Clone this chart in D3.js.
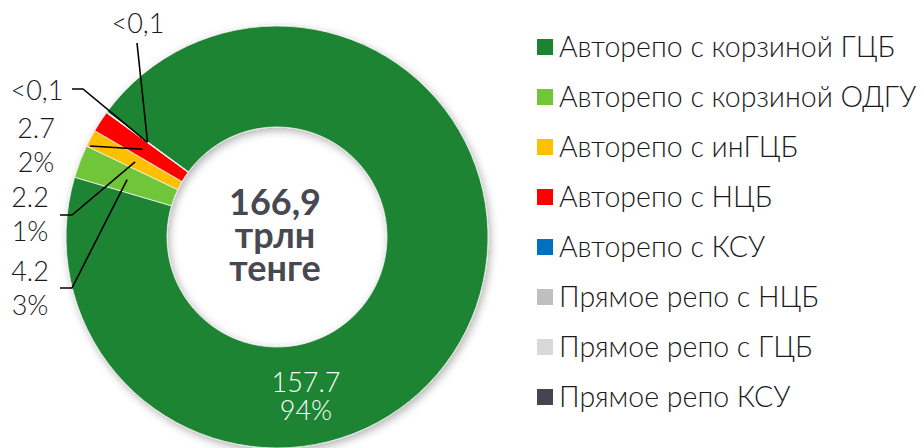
<!DOCTYPE html>
<html>
<head>
<meta charset="utf-8">
<script src="https://cdn.jsdelivr.net/npm/d3@7"></script>
<style>
  html, body { margin: 0; padding: 0; background: #fff; }
  svg { display: block; }
  .lbl { font-family: Lato, "Open Sans", sans-serif; font-weight: 300; }
</style>
</head>
<body>
<svg id="chart" width="923" height="448"></svg>
<script>
// Repo volume structure, trillion tenge
const categories = [
  "Авторепо с корзиной ГЦБ",
  "Авторепо с корзиной ОДГУ",
  "Авторепо с инГЦБ",
  "Авторепо с НЦБ",
  "Авторепо с КСУ",
  "Прямое репо с НЦБ",
  "Прямое репо с ГЦБ",
  "Прямое репо КСУ"
];
const values = [157.7, 4.2, 2.2, 2.7, 0.05, 0.05, 0, 0];
const colors = ["#1a8431", "#70c637", "#ffc000", "#ff0000", "#0070c0", "#bfbfbf", "#d9d9d9", "#44454f"];
const unitLines = ["трлн", "тенге"];

// Label placement (text anchor, leader elbow) for each labelled slice
const labelLayout = {
  0: { inside: true, angleDeg: 169.6 },
  1: { tx: 30, ty: 281, elbow: [[60, 288], [72, 288]] },
  2: { tx: 30, ty: 207, elbow: [[60, 215], [72, 215]] },
  3: { tx: 36, ty: 138, elbow: [[90, 146]] },
  4: { tx: 37, ty: 100, single: true, elbow: [[72, 89], [83, 89]] },
  5: { tx: 138, ty: 33, single: true, elbow: [[137, 43]] }
};

const svg = d3.select("#chart");
const cx = 277, cy = 237, rOuter = 211, rInner = 110;
const startAngle = -53.7 * Math.PI / 180;

const defs = svg.append("defs");
const f = defs.append("filter").attr("id", "shadow")
  .attr("x", "-20%").attr("y", "-20%").attr("width", "140%").attr("height", "140%");
f.append("feDropShadow").attr("dx", 2).attr("dy", 3).attr("stdDeviation", 4)
  .attr("flood-color", "#000").attr("flood-opacity", 0.3);

const total = d3.sum(values);
const data = categories.map((c, i) => ({ name: c, value: values[i], color: colors[i], i }));

const pie = d3.pie().sort(null).value(d => d.value)
  .startAngle(startAngle).endAngle(startAngle + 2 * Math.PI);
const arcs = pie(data);
const arc = d3.arc().innerRadius(rInner).outerRadius(rOuter);

const g = svg.append("g").attr("transform", `translate(${cx},${cy})`);
g.append("g").attr("filter", "url(#shadow)")
  .selectAll("path").data(arcs.filter(a => a.value > 0)).join("path")
  .attr("d", arc)
  .attr("fill", d => d.data.color)
  .attr("stroke", "#f2f2f2").attr("stroke-width", 0.8);

// Value / share labels
const fmtVal = v => v < 0.1 ? "<0,1" : d3.format(".1f")(v);
const fmtPct = d3.format(".0%");

arcs.forEach(a => {
  const lay = labelLayout[a.index];
  if (!lay) return;
  const valText = fmtVal(a.value);
  const pctText = fmtPct(a.value / total);
  if (lay.inside) {
    const ang = lay.angleDeg * Math.PI / 180;
    const p = d3.arc().innerRadius(rInner).outerRadius(rOuter)
      .centroid({ startAngle: ang, endAngle: ang });
    const t = g.append("text").attr("class", "lbl")
      .attr("text-anchor", "middle").attr("fill", "#fff").attr("font-size", 27);
    t.append("tspan").attr("x", p[0]).attr("y", p[1] - 3).text(valText);
    t.append("tspan").attr("x", p[0]).attr("y", p[1] + 25).text(pctText);
    return;
  }
  const c = arc.centroid(a);
  const pts = lay.elbow.map(([x, y]) => [x, y]).concat([[c[0] + cx, c[1] + cy]]);
  svg.append("path")
    .attr("d", d3.line()(pts))
    .attr("fill", "none").attr("stroke", "#000").attr("stroke-width", 1.6);
  const t = svg.append("text").attr("class", "lbl")
    .attr("text-anchor", "middle").attr("fill", "#1a1a1a").attr("font-size", 27);
  t.append("tspan").attr("x", lay.tx).attr("y", lay.ty).text(valText);
  if (!lay.single) t.append("tspan").attr("x", lay.tx).attr("y", lay.ty + 34).text(pctText);
});

// Total in the hole
const totalText = d3.format(".1f")(total).replace(".", ",");
[totalText].concat(unitLines).forEach((s, k) => {
  g.append("text")
    .attr("text-anchor", "middle")
    .attr("font-family", "Lato, 'Open Sans', sans-serif")
    .attr("font-weight", 700).attr("font-size", 36).attr("fill", "#474852")
    .attr("x", -2).attr("y", -22 + k * 33).text(s);
});

// Legend
const legend = svg.append("g").attr("transform", "translate(537,0)");
const item = legend.selectAll("g").data(data).join("g")
  .attr("transform", (d, i) => `translate(0,${47 + i * 50})`);
item.append("rect").attr("x", 0).attr("y", -8).attr("width", 16).attr("height", 16)
  .attr("fill", d => d.color);
item.append("text").attr("class", "lbl")
  .attr("x", 22).attr("y", 10)
  .attr("font-size", 28.5).attr("fill", "#1a1a1a")
  .text(d => d.name);
</script>
</body>
</html>
